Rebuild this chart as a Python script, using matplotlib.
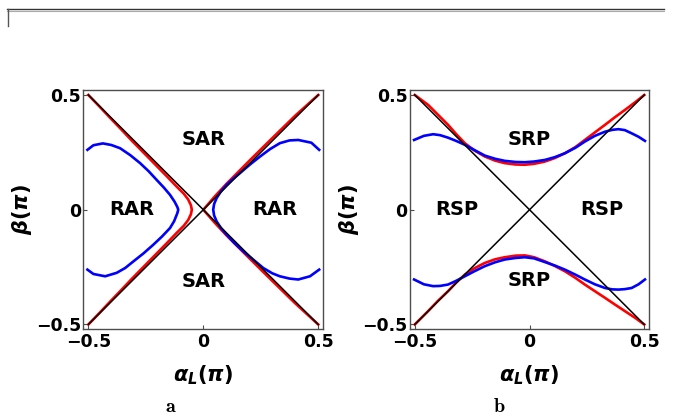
import matplotlib

matplotlib.use("Agg")
import matplotlib.pyplot as plt
from matplotlib.lines import Line2D

plt.rcParams["mathtext.fontset"] = "custom"
plt.rcParams["mathtext.rm"] = "DejaVu Sans:bold"
plt.rcParams["mathtext.it"] = "DejaVu Sans:italic:bold"
plt.rcParams["mathtext.bf"] = "DejaVu Sans:bold"

# diagonal boundaries |beta| = |alpha_L|
diag_x = [-0.5, 0.5]
diag_up = [-0.5, 0.5]
diag_down = [0.5, -0.5]

# panel a: red boundary, left branch (vertex near alpha_L = -0.05)
a_red_left_x = [-0.5, -0.452, -0.405, -0.357, -0.31, -0.261, -0.212, -0.163,
                -0.115, -0.085, -0.066, -0.054, -0.05, -0.054, -0.066, -0.085,
                -0.115, -0.163, -0.212, -0.261, -0.31, -0.357, -0.405, -0.452, -0.5]
a_red_left_y = [0.5, 0.45, 0.4, 0.35, 0.3, 0.25, 0.2, 0.15, 0.1, 0.07, 0.045,
                0.02, 0.0, -0.02, -0.045, -0.07, -0.1, -0.15, -0.2, -0.25, -0.3,
                -0.35, -0.4, -0.45, -0.5]
# panel a: red boundary, right branch through the origin
a_red_right_x = [0.5, 0.4, 0.3, 0.2, 0.1, 0.05, 0.0, 0.05, 0.1, 0.2, 0.3, 0.4, 0.5]
a_red_right_y = [0.5, 0.41, 0.312, 0.213, 0.112, 0.058, 0.0, -0.057, -0.111,
                 -0.211, -0.31, -0.408, -0.5]

# panel a: blue boundary
a_blue_left_x = [-0.504, -0.478, -0.437, -0.4, -0.362, -0.318, -0.275, -0.238,
                 -0.203, -0.172, -0.145, -0.125, -0.113, -0.109, -0.113, -0.127,
                 -0.145, -0.18, -0.217, -0.26, -0.304, -0.34, -0.377, -0.427,
                 -0.478, -0.504]
a_blue_left_y = [0.261, 0.281, 0.289, 0.282, 0.268, 0.238, 0.203, 0.168, 0.13,
                 0.097, 0.065, 0.035, 0.012, 0.0, -0.015, -0.05, -0.08, -0.117,
                 -0.152, -0.19, -0.225, -0.254, -0.275, -0.29, -0.28, -0.261]
a_blue_right_x = [0.504, 0.47, 0.413, 0.375, 0.333, 0.29, 0.247, 0.203, 0.16,
                  0.128, 0.102, 0.077, 0.058, 0.047, 0.043, 0.047, 0.058, 0.077,
                  0.102, 0.135, 0.174, 0.218, 0.261, 0.3, 0.333, 0.375, 0.413,
                  0.464, 0.504]
a_blue_right_y = [0.261, 0.292, 0.304, 0.302, 0.29, 0.264, 0.232, 0.197, 0.16,
                  0.133, 0.109, 0.08, 0.051, 0.025, 0.0, -0.025, -0.051, -0.08,
                  -0.109, -0.145, -0.181, -0.218, -0.254, -0.277, -0.29, -0.3,
                  -0.304, -0.29, -0.261]

# panel b: red boundaries
b_red_x = [-0.5, -0.442, -0.4, -0.355, -0.32, -0.282, -0.24, -0.195, -0.15,
           -0.108, -0.06, -0.02, 0.02, 0.067, 0.11, 0.154, 0.2, 0.241, 0.285,
           0.329, 0.372, 0.416, 0.46, 0.5]
b_red_top_y = [0.5, 0.457, 0.415, 0.37, 0.33, 0.29, 0.258, 0.232, 0.214, 0.203,
               0.197, 0.196, 0.2, 0.21, 0.225, 0.246, 0.273, 0.304, 0.337,
               0.37, 0.403, 0.435, 0.468, 0.5]
b_red_bot_y = [-0.5, -0.442, -0.398, -0.355, -0.318, -0.283, -0.255, -0.232,
               -0.216, -0.207, -0.2, -0.199, -0.207, -0.225, -0.245, -0.268,
               -0.297, -0.326, -0.355, -0.384, -0.413, -0.442, -0.471, -0.5]

# panel b: blue boundaries
b_blue_x = [-0.503, -0.46, -0.42, -0.39, -0.355, -0.32, -0.282, -0.24, -0.195,
            -0.15, -0.108, -0.06, -0.02, 0.02, 0.067, 0.11, 0.154, 0.2, 0.241,
            0.285, 0.329, 0.36, 0.387, 0.415, 0.445, 0.475, 0.503]
b_blue_top_y = [0.304, 0.322, 0.329, 0.325, 0.314, 0.3, 0.283, 0.26, 0.236,
                0.222, 0.213, 0.208, 0.207, 0.21, 0.217, 0.229, 0.246, 0.27,
                0.297, 0.322, 0.34, 0.348, 0.351, 0.347, 0.333, 0.318, 0.3]
b_blue_bot_y = [-0.304, -0.325, -0.333, -0.332, -0.326, -0.31, -0.29, -0.268,
                -0.246, -0.229, -0.217, -0.21, -0.207, -0.212, -0.228, -0.243,
                -0.261, -0.283, -0.304, -0.325, -0.341, -0.347, -0.348, -0.346,
                -0.341, -0.325, -0.304]

a_regions = [("SAR", 0.0, 0.307), ("SAR", 0.0, -0.312),
             ("RAR", -0.311, 0.0), ("RAR", 0.312, 0.0)]
b_regions = [("SRP", 0.0, 0.307), ("SRP", 0.0, -0.31),
             ("RSP", -0.318, 0.0), ("RSP", 0.314, 0.0)]

ticks = [-0.5, 0, 0.5]
tick_labels = ["\u22120.5", "0", "0.5"]

RED = "#ff0000"
BLUE = "#0000ff"
FRAME = "#4d4d4d"
FONT = "DejaVu Sans"

fig = plt.figure(figsize=(6.73, 4.18), dpi=100)
ax_a = fig.add_axes([0.1238, 0.2122, 0.3566, 0.5732])
ax_b = fig.add_axes([0.6088, 0.2122, 0.3560, 0.5732])


def style_axes(ax):
    ax.set_xlim(-0.522, 0.522)
    ax.set_ylim(-0.521, 0.523)
    ax.set_xticks(ticks)
    ax.set_yticks(ticks)
    ax.set_xticklabels(tick_labels, family=FONT, weight="bold", fontsize=12.5)
    ax.set_yticklabels(tick_labels, family=FONT, weight="bold", fontsize=12.5)
    ax.tick_params(direction="in", length=3, width=0.8, color=FRAME)
    ax.tick_params(axis="x", pad=2.5)
    ax.tick_params(axis="y", pad=1.5)
    for sp in ax.spines.values():
        sp.set_color(FRAME)
        sp.set_linewidth(1.0)
    ax.text(0.5, -0.19, r"$\alpha_L(\pi)$", transform=ax.transAxes,
            ha="center", va="center", fontsize=15)
    ax.text(-0.255, 0.5, r"$\beta(\pi)$", transform=ax.transAxes,
            ha="center", va="center", rotation=90, fontsize=15)


lw_c = 1.9
lw_k = 1.1

ax_a.plot(a_red_left_x, a_red_left_y, color=RED, lw=lw_c)
ax_a.plot(a_red_right_x, a_red_right_y, color=RED, lw=lw_c)
ax_a.plot(a_blue_left_x, a_blue_left_y, color=BLUE, lw=lw_c)
ax_a.plot(a_blue_right_x, a_blue_right_y, color=BLUE, lw=lw_c)
ax_a.plot(diag_x, diag_up, color="black", lw=lw_k)
ax_a.plot(diag_x, diag_down, color="black", lw=lw_k)
for label, x, y in a_regions:
    ax_a.text(x, y, label, ha="center", va="center", fontsize=14,
              family=FONT, weight="bold")
style_axes(ax_a)

ax_b.plot(b_red_x, b_red_top_y, color=RED, lw=lw_c)
ax_b.plot(b_red_x, b_red_bot_y, color=RED, lw=lw_c)
ax_b.plot(b_blue_x, b_blue_top_y, color=BLUE, lw=lw_c)
ax_b.plot(b_blue_x, b_blue_bot_y, color=BLUE, lw=lw_c)
ax_b.plot(diag_x, diag_up, color="black", lw=lw_k)
ax_b.plot(diag_x, diag_down, color="black", lw=lw_k)
for label, x, y in b_regions:
    ax_b.text(x, y, label, ha="center", va="center", fontsize=14,
              family=FONT, weight="bold")
style_axes(ax_b)

# panel captions
fig.text(171 / 673, 1 - 406 / 418, r"$\mathbf{a}$", ha="center", va="center",
         fontsize=14.5, math_fontfamily="cm")
fig.text(499 / 673, 1 - 406 / 418, r"$\mathbf{b}$", ha="center", va="center",
         fontsize=14.5, math_fontfamily="cm")

# page rule along the top edge
fig.add_artist(Line2D([7 / 673, 664 / 673], [1 - 9.3 / 418, 1 - 9.3 / 418],
                      transform=fig.transFigure, color="#333333", lw=1.0))
fig.add_artist(Line2D([7 / 673, 664 / 673], [1 - 10.8 / 418, 1 - 10.8 / 418],
                      transform=fig.transFigure, color="#aaaaaa", lw=0.8))
fig.add_artist(Line2D([7.5 / 673, 7.5 / 673], [1 - 9.3 / 418, 1 - 26 / 418],
                      transform=fig.transFigure, color="#555555", lw=1.0))

fig.savefig("out.png", dpi=100)
